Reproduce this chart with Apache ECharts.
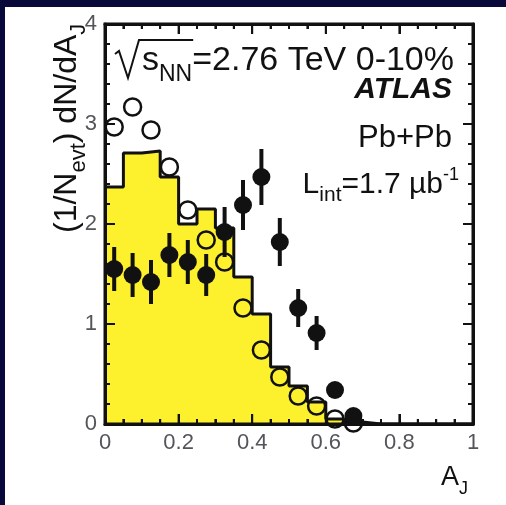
<!DOCTYPE html>
<html>
<head>
<meta charset="utf-8">
<script src="https://cdn.jsdelivr.net/npm/echarts@6/dist/echarts.min.js"></script>
<style>
  html, body { margin: 0; padding: 0; background: #fff; }
  #chart, #notes { width: 506px; height: 505px; position: absolute; left: 0; top: 0; }
  #notes { pointer-events: none; }
</style>
</head>
<body>
<div id="chart"></div>
<div id="notes"></div>
<script>
// histogram (p+p reference), bin edges and contents
const histEdges = [0, 0.05, 0.1, 0.15, 0.2, 0.25, 0.3, 0.35, 0.4, 0.45, 0.5,
  0.55, 0.6, 0.65, 0.7, 0.75, 0.8, 0.85, 0.9, 0.95, 1];
const histValues = [2.37, 2.71, 2.73, 2.47, 2.0, 2.15, 1.96, 1.47, 1.1, 0.57,
  0.38, 0.22, 0.05, 0.02, 0, 0, 0, 0, 0, 0];

// points at bin centres
const pointX = [0.025, 0.075, 0.125, 0.175, 0.225, 0.275, 0.325, 0.375,
  0.425, 0.475, 0.525, 0.575, 0.625, 0.675];
const openY = [2.97, 3.17, 2.94, 2.57, 2.14, 1.84, 1.62, 1.16, 0.74, 0.47,
  0.28, 0.18, 0.05, 0.01];
const filledY = [1.55, 1.49, 1.42, 1.69, 1.62, 1.49, 1.92, 2.19, 2.47, 1.82,
  1.16, 0.91, 0.34, 0.08];
const filledErr = [0.22, 0.22, 0.22, 0.22, 0.22, 0.21, 0.25, 0.25, 0.28, 0.24,
  0.19, 0.17, 0.03, 0.02];

// tick positions (major + minor) for the frame on all four sides
const xTickVals = [0, 0.05, 0.1, 0.15, 0.2, 0.25, 0.3, 0.35, 0.4, 0.45, 0.5,
  0.55, 0.6, 0.65, 0.7, 0.75, 0.8, 0.85, 0.9, 0.95, 1];
const xMajor = [0, 0.2, 0.4, 0.6, 0.8, 1];
const yTickVals = [0, 0.2, 0.4, 0.6, 0.8, 1, 1.2, 1.4, 1.6, 1.8, 2, 2.2, 2.4,
  2.6, 2.8, 3, 3.2, 3.4, 3.6, 3.8, 4];
const yMajor = [0, 1, 2, 3, 4];

const FONT = '"Liberation Sans", Arial, sans-serif';
const INK = '#111';

const histData = histValues.map((v, i) => [histEdges[i], v]);
histData.push([histEdges[histEdges.length - 1], histValues[histValues.length - 1]]);

const openData = pointX.map((x, i) => [x, openY[i]]);
const filledData = pointX.map((x, i) => [x, filledY[i]]);
const errData = pointX.map((x, i) => [x, filledY[i], filledErr[i]]);

function makeAxis(pos, max, interval, minorSplit, label) {
  return {
    type: 'value', min: 0, max: max, interval: interval, position: pos,
    axisLine: { show: true, onZero: false, lineStyle: { color: INK, width: 3 } },
    axisTick: { show: true, inside: true, length: 10, lineStyle: { color: INK, width: 2 } },
    minorTick: { show: true, splitNumber: minorSplit, length: 5, lineStyle: { color: INK, width: 2 } },
    splitLine: { show: false },
    axisLabel: label,
    z: 10
  };
}

// frame + inside ticks drawn through the axis scales
function tickLine(x1, y1, x2, y2) {
  return { type: 'line', shape: { x1: x1, y1: y1, x2: x2, y2: y2 }, style: { stroke: INK, lineWidth: 2 } };
}

const chart = echarts.init(document.getElementById('chart'));
chart.setOption({
  animation: false,
  grid: { left: 105, right: 33, top: 24, bottom: 81 },
  xAxis: [
    makeAxis('bottom', 1, 0.2, 4, { fontSize: 22 }),
    makeAxis('top', 1, 0.2, 4, { show: false })
  ],
  yAxis: [
    makeAxis('left', 4, 1, 5, { fontSize: 22 }),
    makeAxis('right', 4, 1, 5, { show: false })
  ],
  series: [
    {
      name: 'pp',
      type: 'line',
      step: 'end',
      data: histData,
      symbol: 'none',
      lineStyle: { color: INK, width: 3 },
      areaStyle: { color: '#fdf02c', opacity: 1 },
      z: 1
    },
    {
      name: 'open',
      type: 'scatter',
      data: openData,
      symbolSize: 17,
      itemStyle: { color: 'transparent', borderColor: INK, borderWidth: 2.5, opacity: 1 },
      z: 3
    },
    {
      name: 'err',
      type: 'custom',
      data: errData,
      renderItem: function (params, api) {
        const p0 = api.coord([api.value(0), api.value(1) - api.value(2)]);
        const p1 = api.coord([api.value(0), api.value(1) + api.value(2)]);
        return {
          type: 'line',
          shape: { x1: p0[0], y1: p0[1], x2: p1[0], y2: p1[1] },
          style: { stroke: INK, lineWidth: 4 }
        };
      },
      z: 4
    },
    {
      name: 'filled',
      type: 'scatter',
      data: filledData,
      symbolSize: 18,
      itemStyle: { color: INK, opacity: 1 },
      z: 5
    },
    {
      name: 'xticks',
      type: 'custom',
      clip: false,
      silent: true,
      data: xTickVals.map(v => [v, 0]),
      renderItem: function (params, api) {
        const v = api.value(0);
        const len = xMajor.some(m => Math.abs(m - v) < 1e-9) ? 10 : 5;
        const b = api.coord([v, 0]);
        const t = api.coord([v, 4]);
        return { type: 'group', children: [tickLine(b[0], b[1], b[0], b[1] - len), tickLine(t[0], t[1], t[0], t[1] + len)] };
      },
      z: 10
    },
    {
      name: 'yticks',
      type: 'custom',
      clip: false,
      silent: true,
      data: yTickVals.map(v => [0, v]),
      renderItem: function (params, api) {
        const v = api.value(1);
        const len = yMajor.some(m => Math.abs(m - v) < 1e-9) ? 10 : 5;
        const l = api.coord([0, v]);
        const r = api.coord([1, v]);
        return { type: 'group', children: [tickLine(l[0], l[1], l[0] + len, l[1]), tickLine(r[0], r[1], r[0] - len, r[1])] };
      },
      z: 10
    },
    {
      name: 'frame',
      type: 'custom',
      clip: false,
      silent: true,
      data: [[0, 0]],
      renderItem: function (params, api) {
        const a = api.coord([0, 4]);
        const b = api.coord([1, 0]);
        return {
          type: 'rect',
          shape: { x: a[0], y: a[1], width: b[0] - a[0], height: b[1] - a[1] },
          style: { stroke: INK, lineWidth: 3, fill: 'transparent' }
        };
      },
      z: 11
    }
  ]
});

// ---- texts (titles, annotations) on a transparent layer above the plot ----
const ctx = document.createElement('canvas').getContext('2d');
function fontOf(s) {
  return (s.fs || 'normal') + ' ' + (s.fw || 'normal') + ' ' + s.size + 'px ' + FONT;
}
// segs on one baseline, starting at x (or ending at x when right=true)
function textRow(segs, x, base, right) {
  let total = 0;
  segs.forEach(s => { ctx.font = fontOf(s); s.w = ctx.measureText(s.t).width; total += s.w; });
  let cx = right ? x - total : x;
  const out = [];
  segs.forEach(s => {
    out.push({
      type: 'text',
      x: cx,
      y: base + (s.dy || 0) - 0.35 * s.size,
      style: { text: s.t, fill: INK, font: fontOf(s), align: 'left', verticalAlign: 'middle' }
    });
    s.x0 = cx;
    s.x1 = cx + s.w;
    cx += s.w;
  });
  return out;
}

const line1 = [
  { t: 's', size: 34 },
  { t: 'NN', size: 23, dy: 10 },
  { t: '=2.76 TeV 0-10%', size: 34 }
];
const g1 = textRow(line1, 454, 73, true);
const sx = line1[0].x0;
const sqrt = {
  type: 'polyline',
  shape: { points: [[sx - 27, 54], [sx - 23, 51], [sx - 14, 78], [sx - 3, 40], [line1[1].x1 + 1, 40]] },
  style: { stroke: INK, lineWidth: 2, fill: 'transparent' }
};

const gAtlas = textRow([{ t: 'ATLAS', size: 30, fw: 'bold', fs: 'italic' }], 452, 100, true);
const gPb = textRow([{ t: 'Pb+Pb', size: 31 }], 452, 149, true);
const gLumi = textRow([
  { t: 'L', size: 30 },
  { t: 'int', size: 21, dy: 8 },
  { t: '=1.7 \u00b5b', size: 30 },
  { t: '-1', size: 18, dy: -14 }
], 459, 195, true);

const gAj = textRow([
  { t: 'A', size: 27 },
  { t: 'J', size: 18, dy: 8 }
], 441, 487, false);

const yTitle = {
  type: 'group', x: 78, y: 233, rotation: Math.PI / 2,
  children: textRow([
    { t: '(1/N', size: 32 },
    { t: 'evt', size: 22, dy: 9 },
    { t: ') dN/dA', size: 32 },
    { t: 'J', size: 22, dy: 9 }
  ], 0, 0, false)
};

const frame = [
  { type: 'rect', shape: { x: 0, y: 0, width: 506, height: 7 }, style: { fill: '#08083a' } },
  { type: 'rect', shape: { x: 0, y: 0, width: 5, height: 505 }, style: { fill: '#08083a' } }
];

const notes = echarts.init(document.getElementById('notes'));
notes.setOption({
  animation: false,
  backgroundColor: 'transparent',
  graphic: frame.concat(g1, [sqrt], gAtlas, gPb, gLumi, gAj, [yTitle])
});
</script>
</body>
</html>
